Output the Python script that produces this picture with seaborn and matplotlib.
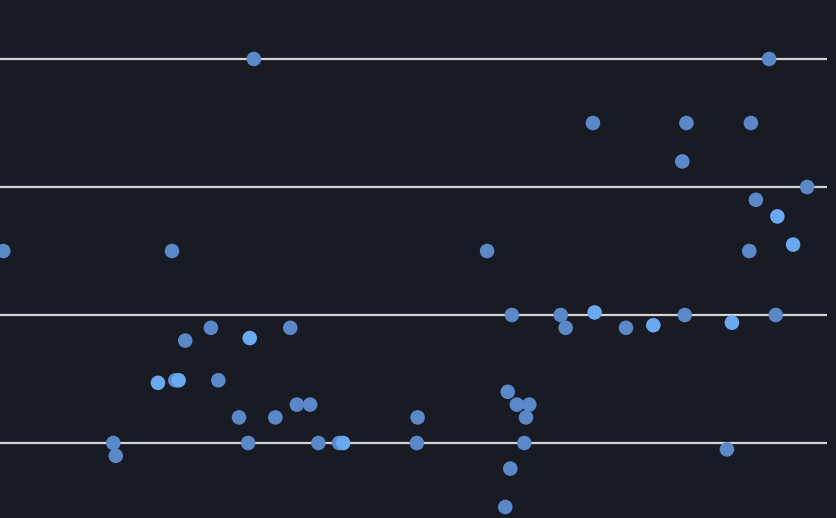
import numpy as np
import pandas as pd
import seaborn as sns
import matplotlib.pyplot as plt

# values (x on a 0-100 scale, y on the grid scale)
x_vals = [0.4, 30.7, 13.7, 14.0, 19.1, 21.2, 21.6, 20.8, 22.4, 25.5,
          26.4, 30.2, 28.9, 30.0, 33.3, 35.1, 35.9, 37.5, 38.5, 41.0,
          41.5, 50.5, 50.4, 58.9, 61.9, 61.4, 62.5, 64.0, 63.6, 63.4,
          61.7, 61.1, 67.8, 68.4, 71.9, 71.7, 75.7, 79.0, 82.8, 83.0,
          82.5, 88.5, 87.9, 90.8, 91.4, 90.6, 94.0, 95.9, 93.8, 93.0,
          97.6]
y_vals = [3.5, 5.0, 2.0, 1.9, 2.47, 2.49, 2.49, 3.5, 2.8, 2.9,
          2.49, 2.82, 2.2, 2.0, 2.2, 2.9, 2.3, 2.3, 2.0, 2.0,
          2.0, 2.2, 2.0, 3.5, 3.0, 2.4, 2.3, 2.3, 2.2, 2.0,
          1.8, 1.5, 3.0, 2.9, 3.02, 4.5, 2.9, 2.92, 3.0, 4.5,
          4.2, 2.94, 1.95, 4.5, 3.9, 3.5, 3.77, 3.55, 3.0, 5.0,
          4.0]
group = ['a', 'a', 'a', 'a', 'b', 'a', 'b', 'a', 'a', 'a',
         'a', 'b', 'a', 'a', 'a', 'a', 'a', 'a', 'a', 'a',
         'b', 'a', 'a', 'a', 'a', 'a', 'a', 'a', 'a', 'a',
         'a', 'a', 'a', 'a', 'b', 'a', 'a', 'b', 'a', 'a',
         'a', 'b', 'a', 'a', 'a', 'a', 'b', 'b', 'a', 'a',
         'a']
grid_levels = [2, 3, 4, 5]

df = pd.DataFrame({'x': x_vals, 'y': y_vals, 'group': group})

bg = '#181b24'
fig = plt.figure(figsize=(8.36, 5.18), dpi=100, facecolor=bg)
ax = fig.add_axes([0, 0, 827 / 836, 1])
ax.set_facecolor(bg)

sns.scatterplot(data=df, x='x', y='y', hue='group',
                palette={'a': '#5a88c8', 'b': '#6aa9f2'},
                s=110, linewidth=0, legend=False, ax=ax, zorder=3)

ax.set_xlim(0, 100)
ax.set_ylim(2 - 75 / 128, 2 + 443 / 128)
ax.set_yticks(grid_levels)
ax.yaxis.grid(True, color='#d4d4d4', linewidth=1.6)
ax.xaxis.grid(False)
ax.set_axisbelow(True)
ax.tick_params(left=False, bottom=False, labelleft=False, labelbottom=False)
for sp in ax.spines.values():
    sp.set_visible(False)
ax.set_xlabel('')
ax.set_ylabel('')

fig.savefig('out.png', dpi=100, facecolor=bg)
